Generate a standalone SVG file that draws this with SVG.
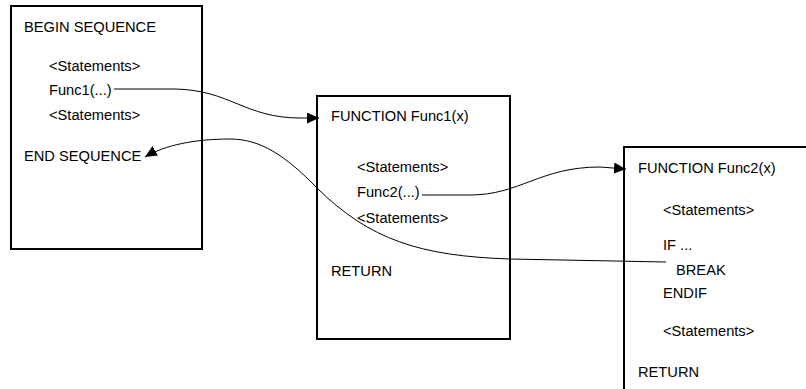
<svg xmlns="http://www.w3.org/2000/svg" width="806" height="389" viewBox="0 0 806 389">
<style>
.box{fill:#fff;stroke:#000;stroke-width:2}
.t{font-family:"Liberation Sans",Arial,sans-serif;font-size:14.67px;fill:#000}
.c{fill:none;stroke:#000;stroke-width:1}
</style>
<defs>
<marker id="arr" viewBox="0 0 12 11" refX="12" refY="5.5" markerWidth="12" markerHeight="11" markerUnits="userSpaceOnUse" orient="auto">
<path d="M0,0 L12,5.5 L0,11 Z" fill="#000"/>
</marker>
</defs>
<rect width="806" height="389" fill="#fff"/>
<g id="main">
<rect class="box" x="11" y="6" width="191" height="243"/>
<text class="t" x="24" y="32">BEGIN SEQUENCE</text>
<text class="t" x="49" y="71">&lt;Statements&gt;</text>
<text class="t" x="49" y="95">Func1(...)</text>
<text class="t" x="49" y="120">&lt;Statements&gt;</text>
<text class="t" x="24" y="161">END SEQUENCE</text>
</g>
<g id="func1">
<rect class="box" x="317" y="96" width="193" height="243"/>
<text class="t" x="331" y="121">FUNCTION Func1(x)</text>
<text class="t" x="357" y="172">&lt;Statements&gt;</text>
<text class="t" x="357" y="197">Func2(...)</text>
<text class="t" x="357" y="223">&lt;Statements&gt;</text>
<text class="t" x="331" y="276">RETURN</text>
</g>
<g id="func2">
<rect class="box" x="624" y="147" width="200" height="260"/>
<text class="t" x="638" y="173">FUNCTION Func2(x)</text>
<text class="t" x="663" y="215">&lt;Statements&gt;</text>
<text class="t" x="663" y="250">IF ...</text>
<text class="t" x="676" y="275">BREAK</text>
<text class="t" x="663" y="298">ENDIF</text>
<text class="t" x="663" y="336">&lt;Statements&gt;</text>
<text class="t" x="638" y="377">RETURN</text>
</g>
<g id="connectors">
<path class="c" d="M114,89 L175,89 C 230,90 245,118 300,118 L319,118" marker-end="url(#arr)"/>
<path class="c" d="M422,195 L470,195 C 520,195 540,167 600,167 L626,169" marker-end="url(#arr)"/>
<path class="c" d="M666,262 L510,259 C 420,256 370,240 317,188 C 285,155 260,139 230,139 C 195,139 165,145 145,157" marker-end="url(#arr)"/>
</g>
</svg>
